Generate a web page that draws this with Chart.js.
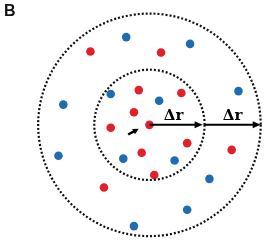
<!DOCTYPE html>
<html>
<head>
<meta charset="utf-8">
<script src="https://cdn.jsdelivr.net/npm/chart.js@4"></script>
<style>
  html, body { margin: 0; padding: 0; background: #fff; }
  #wrap { width: 265px; height: 241px; }
</style>
</head>
<body>
<div id="wrap"><canvas id="fig" width="265" height="241"></canvas></div>
<script>
// dot positions (x, y in pixels, y downward)
const redX = [89, 162, 139, 183, 134, 110, 150, 189, 235, 142, 155, 103];
const redY = [49, 50, 89, 92, 112, 128, 125, 144, 151, 154, 177, 190];
const blueX = [126, 192, 242, 61, 110, 160, 56, 123, 176, 212, 189, 134];
const blueY = [34, 41, 90, 104, 93, 100, 157, 160, 162, 181, 213, 230];

// dotted rings around the centre dot
const ringCenter = { x: 150, y: 125 };
const ringRadius = [57, 115];

// Δr arrows and their labels
const arrowFrom = [150, 207];
const arrowTo = [205, 265];
const arrowLabels = ['Δr', 'Δr'];
const labelX = [175, 236];

const toPts = (xs, ys) => xs.map((x, i) => ({ x: x, y: ys[i] }));

const drawing = {
  id: 'drawing',
  afterDatasetsDraw(chart) {
    const c = chart.ctx;
    const sx = chart.scales.x, sy = chart.scales.y;
    const cx = sx.getPixelForValue(ringCenter.x);
    const cy = sy.getPixelForValue(ringCenter.y);
    c.save();

    // rings
    c.strokeStyle = '#111';
    c.lineWidth = 2.2;
    c.lineCap = 'butt';
    c.setLineDash([2, 2]);
    ringRadius.forEach(r => {
      const rp = sx.getPixelForValue(ringCenter.x + r) - cx;
      c.beginPath();
      c.arc(cx, cy, rp, 0, Math.PI * 2);
      c.stroke();
    });
    c.setLineDash([]);

    // arrows
    c.fillStyle = '#000';
    c.strokeStyle = '#000';
    c.lineWidth = 2;
    arrowFrom.forEach((a, i) => {
      const x0 = sx.getPixelForValue(a);
      const x1 = sx.getPixelForValue(arrowTo[i]);
      c.beginPath();
      c.moveTo(x0, cy);
      c.lineTo(x1 - 6, cy);
      c.stroke();
      c.beginPath();
      c.moveTo(x1, cy);
      c.lineTo(x1 - 8, cy - 3.5);
      c.lineTo(x1 - 8, cy + 3.5);
      c.closePath();
      c.fill();
      c.font = 'bold 15px "DejaVu Serif", serif';
      c.textAlign = 'center';
      c.textBaseline = 'middle';
      c.fillText(arrowLabels[i], sx.getPixelForValue(labelX[i]), cy - 9);
    });

    // small arrow pointing at the centre dot
    const ax0 = sx.getPixelForValue(128), ay0 = sy.getPixelForValue(135);
    const ax1 = sx.getPixelForValue(139), ay1 = sy.getPixelForValue(129);
    c.lineWidth = 2.5;
    c.beginPath();
    c.moveTo(ax0, ay0);
    c.lineTo(ax1 - 3, ay1 + 1.6);
    c.stroke();
    const ang = Math.atan2(ay1 - ay0, ax1 - ax0);
    c.beginPath();
    c.moveTo(ax1, ay1);
    c.lineTo(ax1 - 6 * Math.cos(ang) + 3 * Math.sin(ang), ay1 - 6 * Math.sin(ang) - 3 * Math.cos(ang));
    c.lineTo(ax1 - 6 * Math.cos(ang) - 3 * Math.sin(ang), ay1 - 6 * Math.sin(ang) + 3 * Math.cos(ang));
    c.closePath();
    c.fill();

    // panel letter
    c.font = 'bold 16px "Liberation Sans", Arial, sans-serif';
    c.textAlign = 'left';
    c.textBaseline = 'top';
    c.fillStyle = '#111';
    c.fillText('B', 4, 4);
    c.restore();
  }
};

new Chart(document.getElementById('fig'), {
  type: 'scatter',
  data: {
    datasets: [
      {
        label: 'red',
        data: toPts(redX, redY),
        backgroundColor: '#e0202b',
        borderWidth: 0,
        pointRadius: 4.3
      },
      {
        label: 'blue',
        data: toPts(blueX, blueY),
        backgroundColor: '#1f6cb3',
        borderWidth: 0,
        pointRadius: 4.3
      }
    ]
  },
  options: {
    responsive: false,
    animation: false,
    layout: { padding: 0 },
    plugins: { legend: { display: false }, tooltip: { enabled: false } },
    scales: {
      x: { type: 'linear', min: 0, max: 265, display: false },
      y: { type: 'linear', min: 0, max: 241, reverse: true, display: false }
    }
  },
  plugins: [drawing]
});
</script>
</body>
</html>
